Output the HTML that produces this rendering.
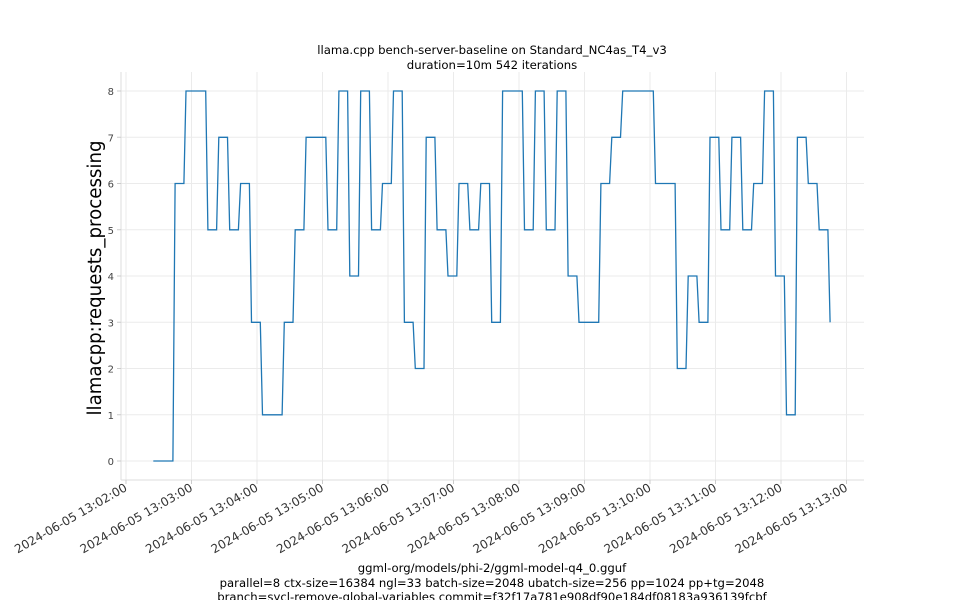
<!DOCTYPE html>
<html><head><meta charset="utf-8"><style>
html,body{margin:0;padding:0;background:#fff;}
svg{display:block;font-family:"DejaVu Sans","Liberation Sans",sans-serif;}
</style></head><body>
<svg id="chart" width="960" height="600" viewBox="0 0 960 600">
<text x="492" y="54" text-anchor="middle" font-size="11.7">llama.cpp bench-server-baseline on Standard_NC4as_T4_v3</text>
<text x="492" y="69" text-anchor="middle" font-size="11.7">duration=10m 542 iterations</text>
<g id="grid"></g>
<line x1="121" y1="72" x2="121" y2="480" stroke="#ddd"/>
<line x1="121" y1="480" x2="864" y2="480" stroke="#ddd"/>
<g id="yticks"></g>
<g id="xticks"></g>
<text transform="translate(101,278) rotate(-90)" text-anchor="middle" font-size="18.2">llamacpp:requests_processing</text>
<path id="series" fill="none" stroke="#1f77b4" stroke-width="1.3"/>
<text x="492" y="572" text-anchor="middle" font-size="11.65">ggml-org/models/phi-2/ggml-model-q4_0.gguf</text>
<text x="492" y="587" text-anchor="middle" font-size="11.65">parallel=8 ctx-size=16384 ngl=33 batch-size=2048 ubatch-size=256 pp=1024 pp+tg=2048</text>
<text x="492" y="601" text-anchor="middle" font-size="11.65">branch=sycl-remove-global-variables commit=f32f17a781e908df90e184df08183a936139fcbf</text>
</svg>
<script>
const tickLabels = ["2024-06-05 13:02:00","2024-06-05 13:03:00","2024-06-05 13:04:00","2024-06-05 13:05:00","2024-06-05 13:06:00","2024-06-05 13:07:00","2024-06-05 13:08:00","2024-06-05 13:09:00","2024-06-05 13:10:00","2024-06-05 13:11:00","2024-06-05 13:12:00","2024-06-05 13:13:00"];
const yTicks = [0,1,2,3,4,5,6,7,8];
const sampleStart = 25; // seconds after 13:02:00
const sampleStep = 10;
const values = [0,0,6,8,8,5,7,5,6,3,1,1,3,5,7,7,5,8,4,8,5,6,8,3,2,7,5,4,6,5,6,3,8,8,5,8,5,8,4,3,3,6,7,8,8,8,6,6,2,4,3,7,5,7,5,6,8,4,1,7,6,5,3];
const hold = 8;
const NS = "http://www.w3.org/2000/svg";
function xs(t){ return 126 + t * 65.5 / 60; }
function ys(v){ return 461 - v * 46.25; }
const grid = document.getElementById('grid');
const yt = document.getElementById('yticks');
const xt = document.getElementById('xticks');
yTicks.forEach(v=>{
  const l=document.createElementNS(NS,'line');
  l.setAttribute('x1',121);l.setAttribute('x2',864);l.setAttribute('y1',ys(v));l.setAttribute('y2',ys(v));
  l.setAttribute('stroke','#ebebeb');
  
  
  grid.appendChild(l);
  const tk=document.createElementNS(NS,'line');
  tk.setAttribute('x1',117);tk.setAttribute('x2',121);tk.setAttribute('y1',ys(v));tk.setAttribute('y2',ys(v));
  tk.setAttribute('stroke','#ccc');
  
  
  yt.appendChild(tk);
  const t=document.createElementNS(NS,'text');
  t.setAttribute('x',114);t.setAttribute('y',ys(v)+4);t.setAttribute('text-anchor','end');t.setAttribute('font-size','10');t.setAttribute('fill','#444');
  t.textContent=v;
  
  
  yt.appendChild(t);
});
tickLabels.forEach((s,i)=>{
  const x=xs(i*60);
  const l=document.createElementNS(NS,'line');
  l.setAttribute('x1',x);l.setAttribute('x2',x);l.setAttribute('y1',72);l.setAttribute('y2',480);
  l.setAttribute('stroke','#ebebeb');
  
  
  grid.appendChild(l);
  const tk=document.createElementNS(NS,'line');
  tk.setAttribute('x1',x);tk.setAttribute('x2',x);tk.setAttribute('y1',480);tk.setAttribute('y2',484);
  tk.setAttribute('stroke','#ccc');
  
  
  xt.appendChild(tk);
  const t=document.createElementNS(NS,'text');
  t.setAttribute('transform','translate('+(x+2)+',490) rotate(-30)');
  t.setAttribute('text-anchor','end');t.setAttribute('font-size','12');t.setAttribute('fill','#333');
  t.textContent=s;
  
  
  xt.appendChild(t);
});
let d='';
values.forEach((v,i)=>{
  const t0=sampleStart+i*sampleStep;
  d+=(i===0?'M':'L')+xs(t0).toFixed(1)+','+ys(v).toFixed(1);
  if(i<values.length-1) d+='L'+xs(t0+hold).toFixed(1)+','+ys(v).toFixed(1);
});
document.getElementById('series').setAttribute('d',d);
</script>
</body></html>
